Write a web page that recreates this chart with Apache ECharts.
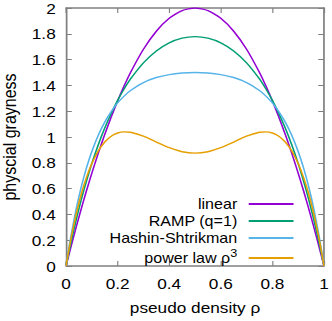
<!DOCTYPE html>
<html>
<head>
<meta charset="utf-8">
<script src="https://cdn.jsdelivr.net/npm/echarts@6/dist/echarts.min.js"></script>
<style>
  html, body { margin: 0; padding: 0; background: #fff; overflow: hidden; }
  /* reference is stretched horizontally, so draw narrower and stretch */
  #chart { width: 289px; height: 321px; transform: scaleX(1.1488); transform-origin: 0 0; }
</style>
</head>
<body>
<div id="chart"></div>
<script>
// pseudo density sample points
const rho = [0, 0.01, 0.02, 0.04, 0.06, 0.08, 0.1, 0.125, 0.15, 0.175, 0.2, 0.225, 0.25, 0.3, 0.35, 0.4, 0.45, 0.5,
  0.55, 0.6, 0.65, 0.7, 0.75, 0.775, 0.8, 0.825, 0.85, 0.875, 0.9, 0.92, 0.94, 0.96, 0.98, 0.99, 1];

const linear = [0, 0.079, 0.157, 0.307, 0.451, 0.589, 0.72, 0.875, 1.02, 1.155, 1.28, 1.395, 1.5, 1.68, 1.82, 1.92, 1.98, 2,
  1.98, 1.92, 1.82, 1.68, 1.5, 1.395, 1.28, 1.155, 1.02, 0.875, 0.72, 0.589, 0.451, 0.307, 0.157, 0.079, 0];
const ramp = [0, 0.098, 0.191, 0.364, 0.522, 0.665, 0.795, 0.94, 1.069, 1.183, 1.284, 1.372, 1.45, 1.575, 1.667, 1.73, 1.766, 1.778,
  1.766, 1.73, 1.667, 1.575, 1.45, 1.372, 1.284, 1.183, 1.069, 0.94, 0.795, 0.665, 0.522, 0.364, 0.191, 0.098, 0];
const hashin = [0, 0.128, 0.244, 0.449, 0.621, 0.766, 0.888, 1.014, 1.115, 1.197, 1.264, 1.317, 1.36, 1.422, 1.461, 1.484, 1.496, 1.5,
  1.496, 1.484, 1.461, 1.422, 1.36, 1.317, 1.264, 1.197, 1.115, 1.014, 0.888, 0.766, 0.621, 0.449, 0.244, 0.128, 0];
const power = [0, 0.115, 0.221, 0.408, 0.564, 0.691, 0.794, 0.892, 0.961, 1.006, 1.031, 1.04, 1.037, 1.007, 0.961, 0.917, 0.886, 0.875,
  0.886, 0.917, 0.961, 1.007, 1.037, 1.04, 1.031, 1.006, 0.961, 0.892, 0.794, 0.691, 0.564, 0.408, 0.221, 0.115, 0];

const xTicks = [0, 0.2, 0.4, 0.6, 0.8, 1];
const yTicks = [0, 0.2, 0.4, 0.6, 0.8, 1, 1.2, 1.4, 1.6, 1.8, 2];

const names = ['linear', 'RAMP (q=1)', 'Hashin-Shtrikman', 'power law ρ3'];
const colors = ['#9400d3', '#009e73', '#56b4e9', '#e69f00'];
const values = [linear, ramp, hashin, power];

const chart = echarts.init(document.getElementById('chart'), null, { renderer: 'svg' });
const font = 'Liberation Sans, Arial, sans-serif';
const frame = { show: true, onZero: false, lineStyle: { color: '#808080', width: 1.5 } };
const ticks = { show: true, inside: true, length: 5, lineStyle: { color: '#808080', width: 1 } };

function axisX(pos, showLabel) {
  return {
    type: 'value', position: pos, min: xTicks[0], max: xTicks[xTicks.length - 1], interval: 0.2,
    axisLine: frame, axisTick: ticks, splitLine: { show: false },
    axisLabel: { show: showLabel, color: '#000', fontSize: 15, fontFamily: font, margin: 10 },
    name: showLabel ? 'pseudo density ρ' : '', nameLocation: 'middle', nameGap: 34,
    nameTextStyle: { color: '#000', fontSize: 15, fontFamily: font }
  };
}
function axisY(pos, showLabel) {
  return {
    type: 'value', position: pos, min: yTicks[0], max: yTicks[yTicks.length - 1], interval: 0.2,
    axisLine: frame, axisTick: ticks, splitLine: { show: false },
    axisLabel: { show: showLabel, color: '#000', fontSize: 15, fontFamily: font, margin: 9 },
    name: showLabel ? 'physcial grayness' : '', nameLocation: 'middle', nameGap: 35,
    nameTextStyle: { color: '#000', fontSize: 16, fontFamily: font }
  };
}

chart.setOption({
  animation: false,
  grid: { left: 57.5, right: 7, top: 8, bottom: 55, outerBoundsMode: 'none', containLabel: false },
  xAxis: [axisX('bottom', true), axisX('top', false)],
  yAxis: [axisY('left', true), axisY('right', false)],
  legend: names.map((n, i) => ({
    data: [n], right: 28.5, top: 192 + i * 17, align: 'right', icon: 'rect',
    itemWidth: 39, itemHeight: 2, itemGap: 0,
    textStyle: { color: '#000', fontSize: 14, fontFamily: font, padding: [0, 5, 0, 0],
      rich: { b: { fontSize: 14, fontFamily: font }, s: { fontSize: 11, fontFamily: font, padding: [0, 0, 9, 0] } } },
    formatter: (t) => t === 'power law ρ3' ? '{b|power law ρ}{s|3}' : t
  })),
  series: names.map((n, i) => ({
    name: n, type: 'line', showSymbol: false, smooth: 0.2,
    lineStyle: { color: colors[i], width: 1.4 }, itemStyle: { color: colors[i] },
    data: rho.map((r, j) => [r, values[i][j]])
  }))
});
</script>
</body>
</html>
